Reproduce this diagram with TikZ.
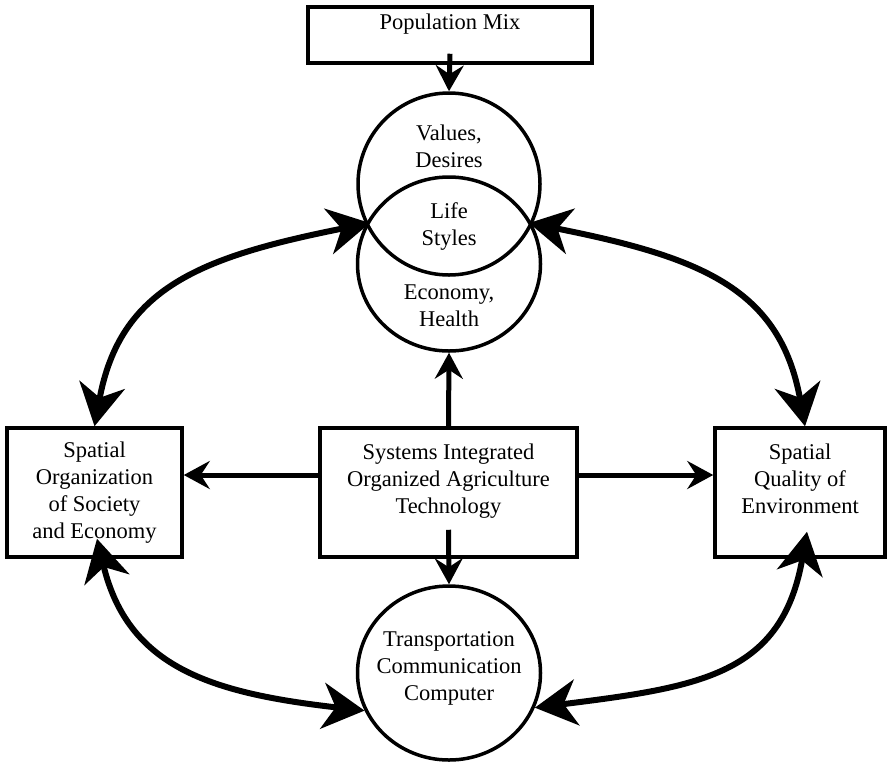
\documentclass[tikz,border=0pt]{standalone}
\usepackage{fontspec}
\setmainfont{Liberation Serif}
\usetikzlibrary{arrows.meta,shapes.geometric}
\begin{document}
\begin{tikzpicture}[x=1pt,y=-1pt,
  box/.style={draw, line width=3.5pt, rectangle, inner sep=0pt, align=center, font=\fontsize{22.5}{27}\selectfont},
  ring/.style={draw, line width=3.5pt, ellipse, inner sep=0pt},
  txt/.style={align=center, font=\fontsize{22.5}{27}\selectfont, inner sep=0pt},
  sarr/.style={line width=5pt, -{Stealth[length=26pt,width=28pt,inset=9pt]}},
  carr/.style={line width=6pt, {Stealth[length=42pt,width=46pt,inset=13pt]}-{Stealth[length=42pt,width=46pt,inset=13pt]}}
]
\path[use as bounding box] (0,0) rectangle (891,764);

\node[box, minimum width=284pt, minimum height=56pt] (pop) at (450,35) {Population Mix\\\mbox{}};
\node[ring, minimum width=182pt, minimum height=182pt] (vd) at (449,184) {};
\node[ring, minimum width=183pt, minimum height=174pt] (eh) at (449,264) {};
\node[txt] (vdt) at (449,146) {Values,\\Desires};
\node[txt] (lst) at (449,226) {Life\\Styles};
\node[txt] (eht) at (449,306) {Economy,\\Health};
\node[box, minimum width=257pt, minimum height=129pt] (sys) at (448.5,492.5) {Systems Integrated\\Organized Agriculture\\Technology\\\mbox{}};
\node[box, minimum width=175pt, minimum height=129pt] (soc) at (94.5,492.5) {Spatial\\Organization\\of Society\\and Economy};
\node[box, minimum width=170pt, minimum height=129pt] (env) at (800,492.5) {Spatial\\Quality of\\Environment\\\mbox{}};
\node[ring, minimum width=183pt, minimum height=174pt] (tc) at (449,673) {};
\node[txt] (tct) at (449,668) {Transportation\\Communication\\Computer};

\coordinate (xl) at (370,223);
\coordinate (xr) at (529,223);

\draw[sarr] ([yshift=11pt]pop.south) -- (vd.north);
\draw[sarr] (sys.north) -- (eh.south);
\draw[sarr] ([yshift=29pt]sys.south) -- (tc.north);
\draw[sarr] ([yshift=17.5pt]sys.west) -- ([yshift=17.5pt]soc.east);
\draw[sarr] ([yshift=17.5pt]sys.east) -- ([yshift=17.5pt]env.west);

\draw[carr] (soc.north) .. controls (120,288) and (200,257) .. (xl);
\draw[carr] (xr) .. controls (700,257) and (780,288) .. ([xshift=5pt]env.north);
\draw[carr] ([xshift=2.5pt,yshift=20pt]soc.south) .. controls (128,667) and (210,693) .. (tc.204);
\draw[carr] ([xshift=7pt,yshift=27pt]env.south) .. controls (782,675) and (700,687) .. (tc.-22);
\end{tikzpicture}
\end{document}
